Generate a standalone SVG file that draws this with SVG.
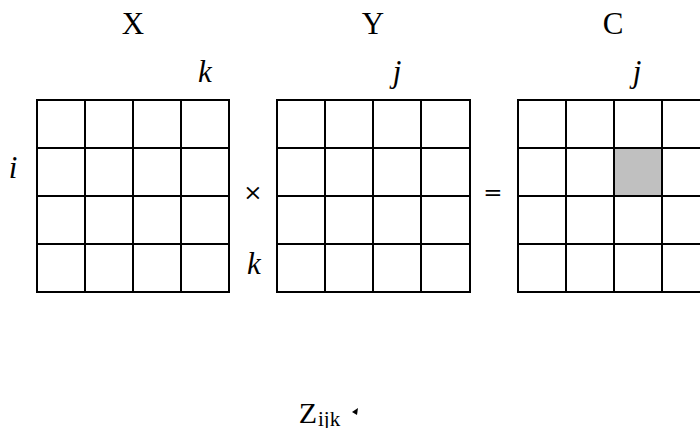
<svg xmlns="http://www.w3.org/2000/svg" width="700" height="428" viewBox="0 0 700 428">
<style>
.g line{stroke:#000;stroke-width:2;stroke-linecap:square}
.t{font-family:"Liberation Serif","DejaVu Serif",serif;fill:#000;text-anchor:middle}
.it{font-style:italic}
.op{font-family:"DejaVu Serif",serif;fill:#000;text-anchor:middle}
</style>
<rect width="700" height="428" fill="#fff"/>
<g id="matX" class="g">
<line x1="37" y1="100" x2="229" y2="100"/><line x1="37" y1="148" x2="229" y2="148"/><line x1="37" y1="196" x2="229" y2="196"/><line x1="37" y1="244" x2="229" y2="244"/><line x1="37" y1="292" x2="229" y2="292"/>
<line x1="37" y1="100" x2="37" y2="292"/><line x1="85" y1="100" x2="85" y2="292"/><line x1="133" y1="100" x2="133" y2="292"/><line x1="181" y1="100" x2="181" y2="292"/><line x1="229" y1="100" x2="229" y2="292"/>
<text class="t" x="133" y="34" font-size="31">X</text>
<text class="t it" x="205" y="82" font-size="31">k</text>
<text class="t it" x="13" y="178" font-size="31">i</text>
</g>
<g id="matY" class="g">
<line x1="277" y1="100" x2="470" y2="100"/><line x1="277" y1="148" x2="470" y2="148"/><line x1="277" y1="196" x2="470" y2="196"/><line x1="277" y1="244" x2="470" y2="244"/><line x1="277" y1="292" x2="470" y2="292"/>
<line x1="277" y1="100" x2="277" y2="292"/><line x1="325" y1="100" x2="325" y2="292"/><line x1="373" y1="100" x2="373" y2="292"/><line x1="421" y1="100" x2="421" y2="292"/><line x1="470" y1="100" x2="470" y2="292"/>
<text class="t" x="373" y="34" font-size="31">Y</text>
<text class="t it" x="397" y="82" font-size="31">j</text>
<text class="t it" x="254" y="274" font-size="31">k</text>
</g>
<g id="matC" class="g">
<rect x="614" y="148" width="48" height="48" fill="#c0c0c0"/>
<line x1="518" y1="100" x2="710" y2="100"/><line x1="518" y1="148" x2="710" y2="148"/><line x1="518" y1="196" x2="710" y2="196"/><line x1="518" y1="244" x2="710" y2="244"/><line x1="518" y1="292" x2="710" y2="292"/>
<line x1="518" y1="100" x2="518" y2="292"/><line x1="566" y1="100" x2="566" y2="292"/><line x1="614" y1="100" x2="614" y2="292"/><line x1="662" y1="100" x2="662" y2="292"/>
<text class="t" x="613" y="34" font-size="31">C</text>
<text class="t it" x="637" y="82" font-size="31">j</text>
</g>
<g id="ops">
<text class="op" x="253" y="200" font-size="23">×</text>
<text class="op" x="493" y="200" font-size="23">=</text>
</g>
<g id="label">
<text class="t" x="308" y="423" font-size="30">Z</text>
<text x="318" y="426" font-size="21" style="font-family:'Liberation Serif',serif">ijk</text>
<polygon points="352,412 358,408 357,415" fill="#000"/>
</g>
</svg>
